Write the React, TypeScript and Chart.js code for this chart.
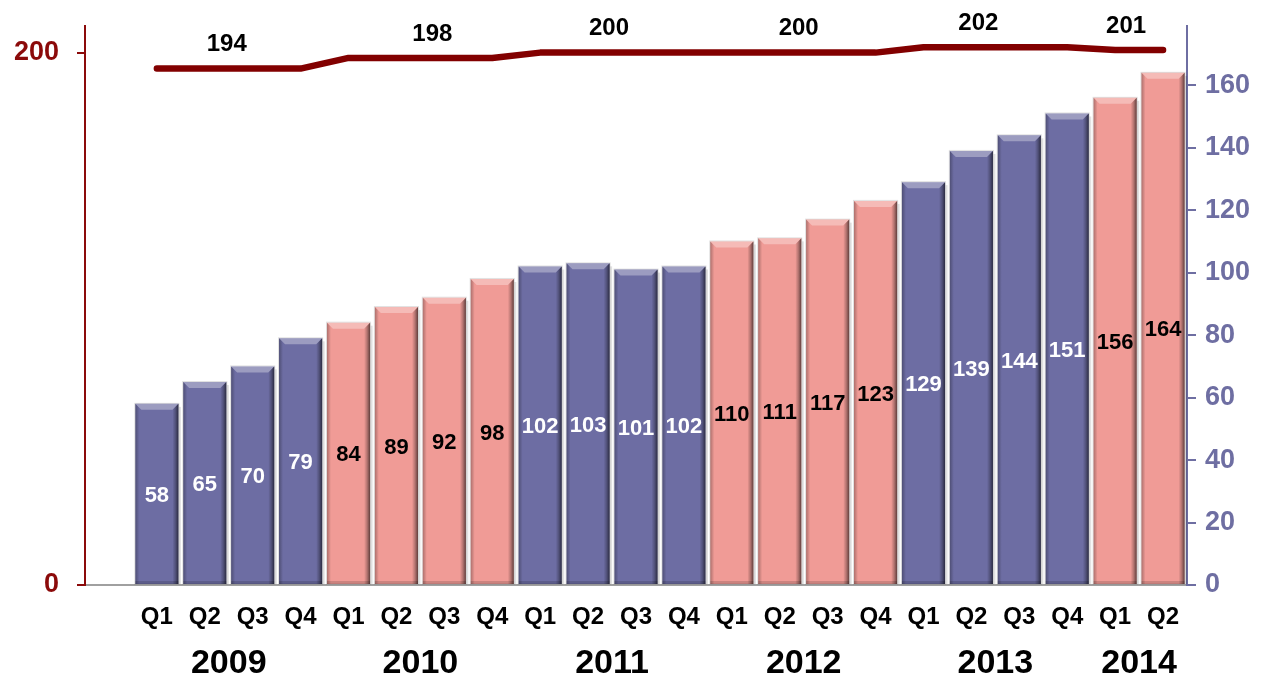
import { useEffect, useRef } from "react";
import { Chart, registerables } from "chart.js";

Chart.register(...registerables);

// ---- data ----
const years = ["2009", "2010", "2011", "2012", "2013", "2014"];
const quarterLabels = [
  "Q1", "Q2", "Q3", "Q4",
  "Q1", "Q2", "Q3", "Q4",
  "Q1", "Q2", "Q3", "Q4",
  "Q1", "Q2", "Q3", "Q4",
  "Q1", "Q2", "Q3", "Q4",
  "Q1", "Q2",
];
const quarterYear = [
  0, 0, 0, 0,
  1, 1, 1, 1,
  2, 2, 2, 2,
  3, 3, 3, 3,
  4, 4, 4, 4,
  5, 5,
];
const barValues = [
  58, 65, 70, 79,
  84, 89, 92, 98,
  102, 103, 101, 102,
  110, 111, 117, 123,
  129, 139, 144, 151,
  156, 164,
];
const lineValues = [
  194, 194, 194, 194,
  198, 198, 198, 198,
  200, 200, 200, 200,
  200, 200, 200, 200,
  202, 202, 202, 202,
  201, 201,
];
const yearLineLabels = [194, 198, 200, 200, 202, 201];
const leftTickValues = [0, 200];
const rightTickStep = 20;

// ---- styles ----
const FONT = "'Liberation Sans', Arial, Helvetica, sans-serif";
const PURPLE = "#6d6da3";
const PINK = "#f09b96";
const LEFT_AXIS = "#8b0a0a";
const RIGHT_AXIS = "#6e6ea2";
const LINE_RED = "#820000";
// small horizontal nudges (px) for the per-year line labels
const lineLabelNudge = [-2, 12, -3, -5, -17, -13];

// a leading blank category leaves room between the left axis and the first bar
const labels = ["", ...quarterLabels];
const barData = [null, ...barValues];
const lineData = [null, ...lineValues];
const barColors = [
  "rgba(0,0,0,0)",
  ...quarterYear.map((y) => (y % 2 === 0 ? PURPLE : PINK)),
];

function yearSpan(yi: number): [number, number] {
  const first = quarterYear.indexOf(yi);
  const last = quarterYear.lastIndexOf(yi);
  return [first + 1, last + 1];
}

// bevelled, slightly shaded look for each bar
const bevelPlugin = {
  id: "bevel",
  afterDatasetDraw(chart: any, args: any) {
    if (args.index !== 0) return;
    const meta = chart.getDatasetMeta(0);
    const ctx: CanvasRenderingContext2D = chart.ctx;
    meta.data.forEach((bar: any, i: number) => {
      if (barData[i] == null) return;
      const { x, y, base, width } = bar.getProps(["x", "y", "base", "width"], true);
      const l = x - width / 2;
      const r = x + width / 2;
      const t = y;
      const b = base;
      const e = 6;
      ctx.save();
      // faint halo around the bar
      ctx.strokeStyle = "rgba(0,0,0,0.12)";
      ctx.lineWidth = 1;
      ctx.strokeRect(l - 0.5, t - 0.5, width + 1, b - t + 0.5);
      // soft drop shadow on the right
      ctx.fillStyle = "rgba(0,0,0,0.12)";
      ctx.fillRect(r + 0.5, t + 3, 2, b - t - 3);
      // top bevel
      ctx.fillStyle = "rgba(255,255,255,0.32)";
      ctx.beginPath();
      ctx.moveTo(l, t);
      ctx.lineTo(r, t);
      ctx.lineTo(r - e, t + e);
      ctx.lineTo(l + e, t + e);
      ctx.closePath();
      ctx.fill();
      // right bevel
      const gr = ctx.createLinearGradient(r - e, 0, r, 0);
      gr.addColorStop(0, "rgba(0,0,0,0)");
      gr.addColorStop(0.5, "rgba(0,0,0,0.25)");
      gr.addColorStop(1, "rgba(0,0,0,0.6)");
      ctx.fillStyle = gr;
      ctx.beginPath();
      ctx.moveTo(r, t);
      ctx.lineTo(r, b);
      ctx.lineTo(r - e, b);
      ctx.lineTo(r - e, t + e);
      ctx.closePath();
      ctx.fill();
      // left bevel
      const gl = ctx.createLinearGradient(l, 0, l + 4, 0);
      gl.addColorStop(0, "rgba(0,0,0,0.28)");
      gl.addColorStop(1, "rgba(0,0,0,0)");
      ctx.fillStyle = gl;
      ctx.beginPath();
      ctx.moveTo(l, t);
      ctx.lineTo(l + e, t + e);
      ctx.lineTo(l + e, b);
      ctx.lineTo(l, b);
      ctx.closePath();
      ctx.fill();
      // bottom edge
      ctx.fillStyle = "rgba(0,0,0,0.15)";
      ctx.fillRect(l, b - 3, width, 3);
      ctx.restore();
    });
  },
};

const labelPlugin = {
  id: "valueLabels",
  afterDraw(chart: any) {
    const ctx: CanvasRenderingContext2D = chart.ctx;
    const xs = chart.scales.x;
    const yL = chart.scales.yL;
    ctx.save();
    ctx.textAlign = "center";
    ctx.textBaseline = "middle";

    // values inside the bars
    ctx.font = `bold 22px ${FONT}`;
    const meta = chart.getDatasetMeta(0);
    meta.data.forEach((bar: any, i: number) => {
      const v = barData[i];
      if (v == null) return;
      const { x, y, base } = bar.getProps(["x", "y", "base"], true);
      ctx.fillStyle = quarterYear[i - 1] % 2 === 0 ? "#ffffff" : "#000000";
      ctx.fillText(String(v), x, (y + base) / 2 + 2);
    });

    // one label per year above the line
    ctx.font = `bold 24px ${FONT}`;
    ctx.fillStyle = "#000000";
    years.forEach((_, yi) => {
      const [a, b] = yearSpan(yi);
      const cx = (xs.getPixelForValue(a) + xs.getPixelForValue(b)) / 2 + lineLabelNudge[yi];
      const py = yL.getPixelForValue(yearLineLabels[yi]);
      ctx.fillText(String(yearLineLabels[yi]), cx, py - 24);
    });

    // year captions under the quarters
    ctx.font = `bold 34px ${FONT}`;
    years.forEach((yr, yi) => {
      const [a, b] = yearSpan(yi);
      const cx = (xs.getPixelForValue(a) + xs.getPixelForValue(b)) / 2;
      ctx.fillText(yr, cx, 664);
    });
    ctx.restore();
  },
};

export default function App() {
  const ref = useRef<HTMLCanvasElement | null>(null);

  useEffect(() => {
    if (!ref.current) return;
    const chart = new Chart(ref.current, {
      type: "bar",
      data: {
        labels,
        datasets: [
          {
            type: "bar",
            data: barData as any,
            yAxisID: "yR",
            backgroundColor: barColors,
            borderWidth: 0,
            barPercentage: 0.9,
            categoryPercentage: 1,
            order: 2,
          },
          {
            type: "line",
            data: lineData as any,
            yAxisID: "yL",
            borderColor: LINE_RED,
            borderWidth: 6.5,
            borderCapStyle: "round",
            borderJoinStyle: "round",
            pointRadius: 0,
            tension: 0,
            fill: false,
            order: 1,
          },
        ],
      },
      options: {
        responsive: false,
        animation: false,
        events: [],
        layout: { padding: { top: 26, left: 0, right: 0, bottom: 0 } },
        plugins: {
          legend: { display: false },
          tooltip: { enabled: false },
          title: { display: false },
        },
        scales: {
          x: {
            type: "category",
            offset: true,
            grid: { display: false, drawTicks: false },
            border: { display: true, color: "#a0a0a0", width: 2 },
            ticks: {
              color: "#000000",
              font: { family: FONT, size: 24, weight: "bold" },
              padding: 18,
              maxRotation: 0,
              autoSkip: false,
            },
            afterFit(scale: any) {
              scale.height = 92;
            },
          },
          yL: {
            type: "linear",
            position: "left",
            min: 0,
            max: 210,
            grid: {
              display: true,
              drawOnChartArea: false,
              drawTicks: true,
              tickLength: 8,
              color: LEFT_AXIS,
              lineWidth: 2,
            },
            border: { display: true, color: LEFT_AXIS, width: 2 },
            afterBuildTicks(scale: any) {
              scale.ticks = leftTickValues.map((v) => ({ value: v }));
            },
            ticks: {
              color: LEFT_AXIS,
              font: { family: FONT, size: 27, weight: "bold" },
              padding: 18,
            },
            afterFit(scale: any) {
              scale.width = 85;
              scale.paddingTop = 0;
              scale.paddingBottom = 0;
            },
          },
          yR: {
            type: "linear",
            position: "right",
            min: 0,
            max: 179,
            grid: {
              display: true,
              drawOnChartArea: false,
              drawTicks: true,
              tickLength: 9,
              color: RIGHT_AXIS,
              lineWidth: 2,
            },
            border: { display: true, color: RIGHT_AXIS, width: 2 },
            ticks: {
              stepSize: rightTickStep,
              includeBounds: false,
              color: RIGHT_AXIS,
              font: { family: FONT, size: 27, weight: "bold" },
              padding: 9,
            },
            afterFit(scale: any) {
              scale.width = 78;
              scale.paddingTop = 0;
              scale.paddingBottom = 0;
            },
          },
        },
      },
      plugins: [bevelPlugin, labelPlugin],
    } as any);
    return () => chart.destroy();
  }, []);

  return (
    <div style={{ position: "absolute", left: 0, top: 0, width: 1265, height: 677, background: "#fff" }}>
      <canvas ref={ref} width={1265} height={677} />
    </div>
  );
}
